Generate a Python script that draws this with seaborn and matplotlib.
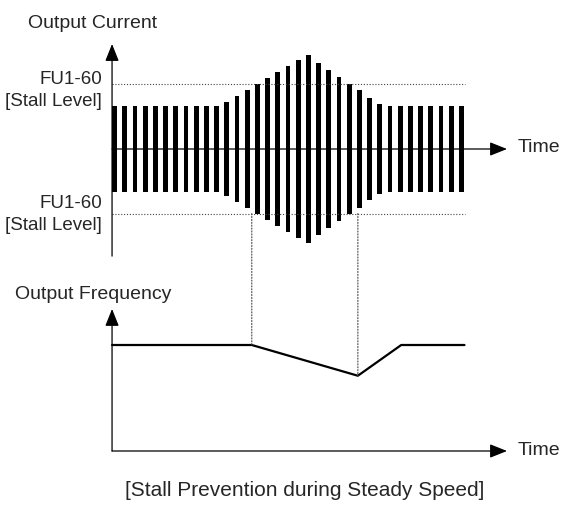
"""
Stall prevention timing chart: output current vs output frequency
during steady speed operation.
"""

import matplotlib
matplotlib.use("Agg")
import matplotlib.pyplot as plt
from matplotlib.patches import ConnectionPatch
import numpy as np
import seaborn as sns

W_PX, H_PX = 567, 506

# carrier bars of the output current (one bar per time step)
BAR_TIME = list(range(35))
CURRENT_AMP = [
    1.00, 1.00, 1.00, 1.00, 1.00, 1.00, 1.00, 1.00, 1.00, 1.00, 1.00,
    1.11, 1.25, 1.39, 1.53, 1.67, 1.81, 1.95, 2.09, 2.21,
    2.03, 1.86, 1.70, 1.54, 1.38, 1.21, 1.05,
    1.00, 1.00, 1.00, 1.00, 1.00, 1.00, 1.00, 1.00,
]
STALL_LEVEL = 1.52
STALL_END = 34.35

# output frequency profile
FREQ_TIME = [-0.25, 13.45, 23.85, 28.1, 34.3]
FREQ_VALUE = [1.0, 1.0, 0.71, 1.0, 1.0]

TIME_START = -0.25
TIME_TIP = 38.47
CURRENT_AXIS = (-2.52, 2.47)
FREQ_TIP = 1.34

ARROW = dict(
    arrowstyle="-|>,head_length=0.75,head_width=0.3",
    color="black", lw=0.9, shrinkA=0, shrinkB=0, mutation_scale=14,
)
DOT = (0, (1, 1.6))


def fig_xy(x, y):
    """Pixel position -> figure fraction."""
    return x / W_PX, 1 - y / H_PX


def axes_rect(left, top, right, bottom):
    return [left / W_PX, 1 - bottom / H_PX, (right - left) / W_PX, (bottom - top) / H_PX]


def arrow(ax, start, end):
    ax.annotate("", xy=end, xytext=start, arrowprops=ARROW, annotation_clip=False)


def main() -> None:
    sns.set_style("white")
    plt.rcParams["font.family"] = ["Liberation Sans", "DejaVu Sans"]

    fig = plt.figure(figsize=(W_PX / 100, H_PX / 100), dpi=100)
    fig.patch.set_facecolor("white")

    ax_top = fig.add_axes(axes_rect(100, 40, 520, 262))
    ax_bot = fig.add_axes(axes_rect(100, 300, 520, 460))

    amp = np.array(CURRENT_AMP)
    for sign in (1, -1):
        sns.barplot(
            x=BAR_TIME, y=sign * amp, native_scale=True, width=0.46,
            color="black", saturation=1, errorbar=None, linewidth=0, ax=ax_top,
        )
    ax_top.set_xlim(-1.431, 39.745)
    ax_top.set_ylim(-2.635, 2.588)

    for lvl in (STALL_LEVEL, -STALL_LEVEL):
        ax_top.plot([TIME_START, STALL_END], [lvl, lvl], color="#444444",
                    lw=0.8, linestyle=DOT)

    arrow(ax_top, (TIME_START, CURRENT_AXIS[0]), (TIME_START, CURRENT_AXIS[1]))
    arrow(ax_top, (TIME_START, 0), (TIME_TIP, 0))

    sns.lineplot(x=FREQ_TIME, y=FREQ_VALUE, color="black", lw=1.6, ax=ax_bot)
    ax_bot.set_xlim(-1.431, 39.745)
    ax_bot.set_ylim(-0.0755, 1.434)
    arrow(ax_bot, (TIME_START, 0), (TIME_START, FREQ_TIP))
    arrow(ax_bot, (TIME_START, 0), (TIME_TIP, 0))

    # dotted drop lines from the lower stall level down to the frequency curve
    for t, f in zip(FREQ_TIME[1:3], FREQ_VALUE[1:3]):
        con = ConnectionPatch(
            xyA=(t, -STALL_LEVEL), coordsA=ax_top.transData,
            xyB=(t, f), coordsB=ax_bot.transData,
            color="#444444", lw=0.8, linestyle=DOT,
        )
        fig.add_artist(con)

    for ax in (ax_top, ax_bot):
        ax.set_axis_off()

    fig.text(*fig_xy(28, 23), "Output Current", fontsize=14, va="center")
    fig.text(*fig_xy(15, 295), "Output Frequency", fontsize=14, va="center")
    for y in (79, 203):
        fig.text(*fig_xy(102, y), "FU1-60", fontsize=13.5, ha="right", va="center")
        fig.text(*fig_xy(102, y + 23), "[Stall Level]", fontsize=13.5,
                 ha="right", va="center")
    fig.text(*fig_xy(518, 148), "Time", fontsize=14, va="center")
    fig.text(*fig_xy(518, 451), "Time", fontsize=14, va="center")
    fig.text(*fig_xy(305, 491), "[Stall Prevention during Steady Speed]",
             fontsize=15, ha="center", va="center")

    fig.savefig("out.png", dpi=100, facecolor="white")
    plt.close(fig)


if __name__ == "__main__":
    main()
